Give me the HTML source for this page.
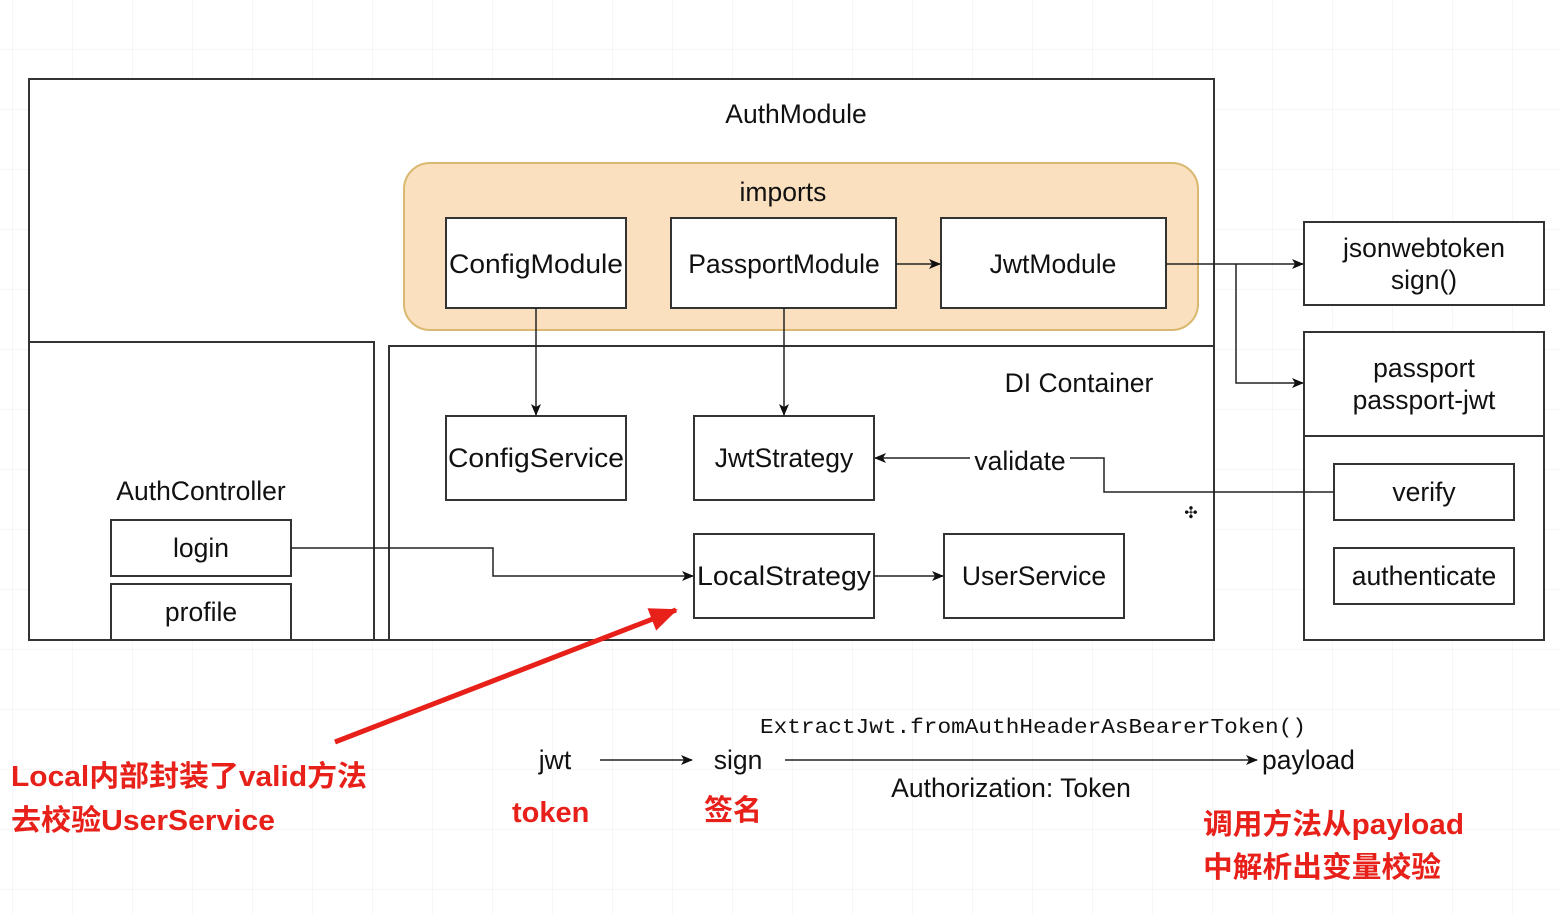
<!DOCTYPE html>
<html><head><meta charset="utf-8"><style>
html,body{margin:0;padding:0;background:#fff}
svg{display:block}
text{font-family:"Liberation Sans","Noto Sans CJK SC",sans-serif;fill:#111}
.r{fill:#e8201a;font-weight:bold;font-size:29px}
</style></head><body>
<svg width="1560" height="914" viewBox="0 0 1560 914" xmlns="http://www.w3.org/2000/svg">
<defs>
<pattern id="g" width="60" height="60" patternUnits="userSpaceOnUse" x="13" y="-10">
<path d="M60 0V60H0" fill="none" stroke="#ececec" stroke-width="1"/>
</pattern>
<marker id="a" markerWidth="12" markerHeight="12" refX="11" refY="6" orient="auto" markerUnits="userSpaceOnUse">
<path d="M0 1L12 6L0 11L3 6z" fill="#111"/></marker>
<marker id="ra" markerWidth="30" markerHeight="30" refX="26" refY="12" orient="auto" markerUnits="userSpaceOnUse">
<path d="M0 0L28 12L0 24z" fill="#e8201a"/></marker>
</defs>
<rect width="1560" height="914" fill="#fff"/>
<rect width="1560" height="914" fill="url(#g)"/>
<g fill="#fff" stroke="#333" stroke-width="2">
<rect x="29" y="79" width="1185" height="561"/>
<rect x="404" y="163" width="794" height="167" rx="26" fill="#fae0be" stroke="#d9b870"/>
<rect x="446" y="218" width="180" height="90"/>
<rect x="671" y="218" width="225" height="90"/>
<rect x="941" y="218" width="225" height="90"/>
<rect x="29" y="342" width="345" height="298"/>
<rect x="389" y="346" width="825" height="294"/>
<rect x="446" y="416" width="180" height="84"/>
<rect x="694" y="416" width="180" height="84"/>
<rect x="694" y="534" width="180" height="84"/>
<rect x="944" y="534" width="180" height="84"/>
<rect x="111" y="520" width="180" height="56"/>
<rect x="111" y="584" width="180" height="56"/>
<rect x="1304" y="222" width="240" height="83"/>
<rect x="1304" y="332" width="240" height="308"/>
<line x1="1304" y1="436" x2="1544" y2="436"/>
<rect x="1334" y="464" width="180" height="56"/>
<rect x="1334" y="548" width="180" height="56"/>
</g>
<g fill="none" stroke="#222" stroke-width="1.5">
<path d="M896 264H940" marker-end="url(#a)"/>
<path d="M1166 264H1303" marker-end="url(#a)"/>
<path d="M1236 264V383H1303" marker-end="url(#a)"/>
<path d="M536 308V415" marker-end="url(#a)"/>
<path d="M784 308V415" marker-end="url(#a)"/>
<path d="M1334 492H1104V458H875" marker-end="url(#a)"/>
<path d="M291 548H493V576H693" marker-end="url(#a)"/>
<path d="M874 576H943" marker-end="url(#a)"/>
<path d="M600 760H692" marker-end="url(#a)"/>
<path d="M785 760H1257" marker-end="url(#a)"/>
</g>
<rect x="970" y="446" width="100" height="28" fill="#fff"/>
<path d="M335 742L676 610" stroke="#e8201a" stroke-width="5" marker-end="url(#ra)"/>
<g font-size="26.5" text-anchor="middle">
<text x="796" y="123">AuthModule</text>
<text x="783" y="201">imports</text>
<text x="536" y="273" textLength="174" lengthAdjust="spacingAndGlyphs">ConfigModule</text>
<text x="784" y="273">PassportModule</text>
<text x="1053" y="273">JwtModule</text>
<text x="1079" y="392">DI Container</text>
<text x="536" y="467" textLength="176" lengthAdjust="spacingAndGlyphs">ConfigService</text>
<text x="784" y="467">JwtStrategy</text>
<text x="784" y="585" textLength="174" lengthAdjust="spacingAndGlyphs">LocalStrategy</text>
<text x="1034" y="585">UserService</text>
<text x="201" y="500">AuthController</text>
<text x="201" y="557">login</text>
<text x="201" y="621">profile</text>
<text x="1020" y="470">validate</text>
<text x="1424" y="257">jsonwebtoken</text>
<text x="1424" y="289">sign()</text>
<text x="1424" y="377">passport</text>
<text x="1424" y="409">passport-jwt</text>
<text x="1424" y="501">verify</text>
<text x="1424" y="585">authenticate</text>
<text x="555" y="769">jwt</text>
<text x="738" y="769">sign</text>
<text x="1011" y="797">Authorization: Token</text>
</g>
<text x="1191" y="518" font-size="16" text-anchor="middle">✣</text>
<text x="1262" y="769" font-size="26.5">payload</text>
<text x="760" y="733" font-size="21" textLength="546" lengthAdjust="spacingAndGlyphs" style="font-family:'Liberation Mono',monospace">ExtractJwt.fromAuthHeaderAsBearerToken()</text>
<text class="r" x="11" y="786" textLength="356" lengthAdjust="spacingAndGlyphs">Local内部封装了valid方法</text>
<text class="r" x="11" y="830" textLength="264" lengthAdjust="spacingAndGlyphs">去校验UserService</text>
<text class="r" x="512" y="822">token</text>
<text class="r" x="704" y="820">签名</text>
<text class="r" x="1203" y="834" textLength="261" lengthAdjust="spacingAndGlyphs">调用方法从payload</text>
<text class="r" x="1203" y="877" textLength="238" lengthAdjust="spacingAndGlyphs">中解析出变量校验</text>
</svg>
</body></html>
